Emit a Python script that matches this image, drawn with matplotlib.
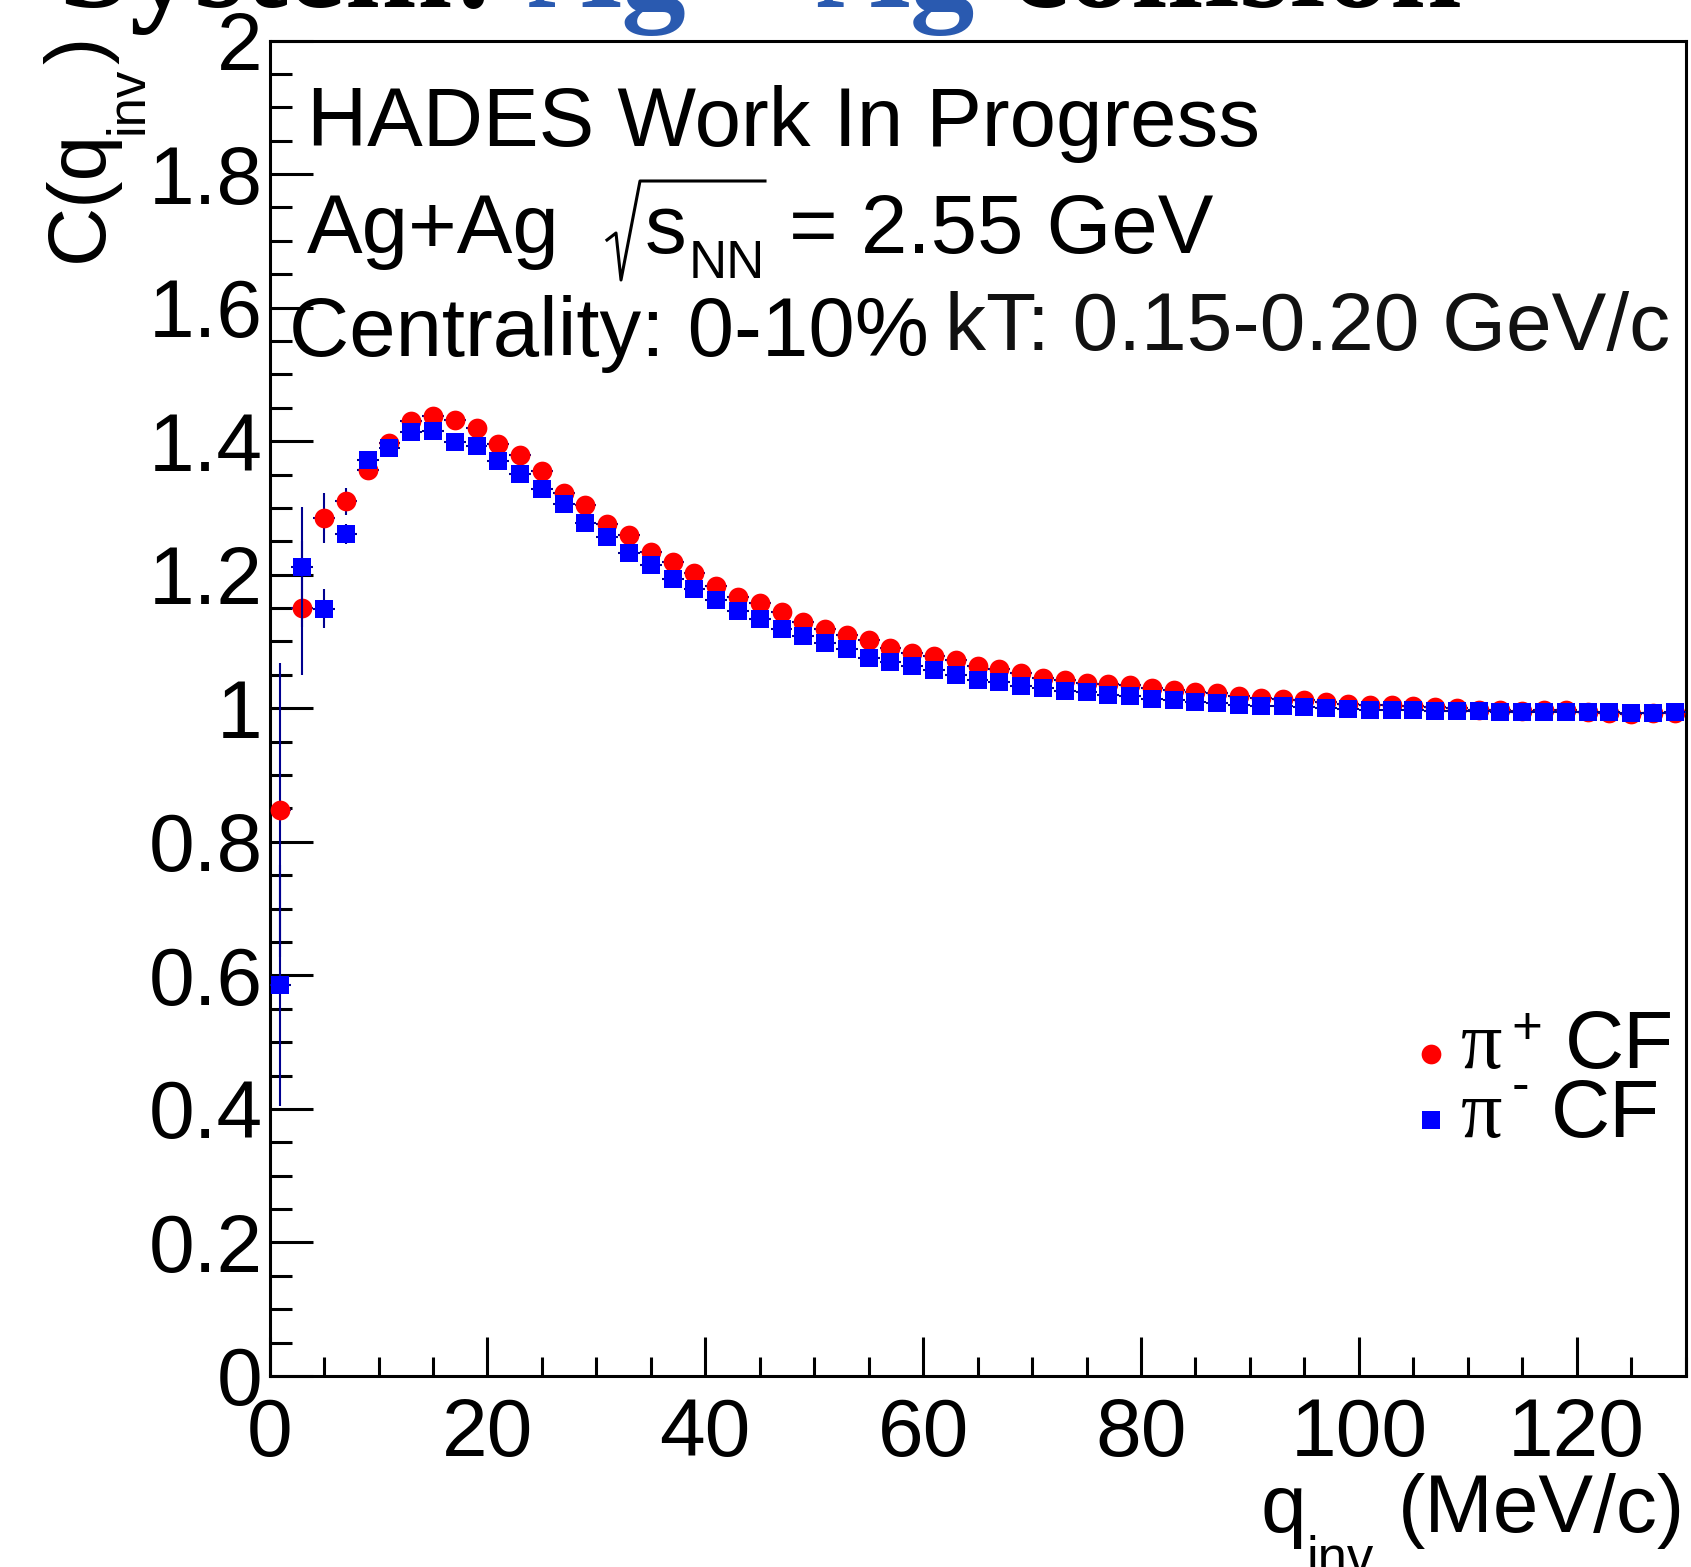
import matplotlib
matplotlib.use("Agg")
import matplotlib.pyplot as plt
from matplotlib.lines import Line2D
from matplotlib.ticker import MultipleLocator, FuncFormatter

plt.rcParams['font.family'] = ['Liberation Sans', 'DejaVu Sans']

# bin centres of q_inv (MeV/c), 2 MeV bins
q_inv = [1, 3, 5, 7, 9, 11, 13, 15, 17, 19, 21, 23, 25, 27, 29, 31, 33, 35, 37, 39,
         41, 43, 45, 47, 49, 51, 53, 55, 57, 59, 61, 63, 65, 67, 69, 71, 73, 75, 77, 79,
         81, 83, 85, 87, 89, 91, 93, 95, 97, 99, 101, 103, 105, 107, 109, 111, 113, 115,
         117, 119, 121, 123, 125, 127, 129]

cf_pip = [0.848, 1.150, 1.285, 1.310, 1.357, 1.397, 1.430, 1.438, 1.431, 1.419,
          1.395, 1.380, 1.355, 1.323, 1.305, 1.276, 1.260, 1.234, 1.219, 1.203,
          1.183, 1.167, 1.158, 1.144, 1.129, 1.118, 1.110, 1.102, 1.090, 1.083,
          1.078, 1.073, 1.063, 1.059, 1.053, 1.045, 1.042, 1.038, 1.037, 1.035,
          1.030, 1.028, 1.024, 1.023, 1.018, 1.015, 1.014, 1.013, 1.009, 1.007,
          1.005, 1.005, 1.003, 1.002, 1.000, 0.998, 0.998, 0.996, 0.998, 0.997,
          0.995, 0.993, 0.992, 0.993, 0.993]
err_pip = [0.220, 0.100, 0.037, 0.020, 0.012, 0.009, 0.007, 0.006, 0.006, 0.005,
           0.005, 0.005, 0.005, 0.004, 0.004, 0.004, 0.004, 0.004, 0.004, 0.004,
           0.004, 0.004, 0.003, 0.003, 0.003, 0.003, 0.003, 0.003, 0.003, 0.003,
           0.003, 0.003, 0.003, 0.003, 0.003, 0.003, 0.003, 0.003, 0.003, 0.003,
           0.003, 0.003, 0.003, 0.003, 0.003, 0.003, 0.003, 0.003, 0.003, 0.003,
           0.003, 0.003, 0.003, 0.003, 0.003, 0.003, 0.003, 0.003, 0.003, 0.003,
           0.003, 0.003, 0.003, 0.003, 0.003]

cf_pim = [0.585, 1.211, 1.149, 1.261, 1.372, 1.389, 1.413, 1.415, 1.398, 1.392,
          1.370, 1.351, 1.329, 1.306, 1.277, 1.257, 1.232, 1.214, 1.193, 1.178,
          1.162, 1.146, 1.133, 1.118, 1.108, 1.097, 1.088, 1.076, 1.070, 1.063,
          1.057, 1.050, 1.043, 1.040, 1.034, 1.030, 1.026, 1.024, 1.020, 1.018,
          1.014, 1.013, 1.010, 1.008, 1.005, 1.004, 1.003, 1.002, 1.000, 0.999,
          0.998, 0.997, 0.997, 0.9965, 0.9965, 0.9955, 0.995, 0.995, 0.9945, 0.994,
          0.994, 0.994, 0.993, 0.993, 0.994]
err_pim = [0.180, 0.090, 0.029, 0.015, 0.010, 0.008, 0.006, 0.005, 0.005, 0.005,
           0.004, 0.004, 0.004, 0.004, 0.004, 0.004, 0.003, 0.003, 0.003, 0.003,
           0.003, 0.003, 0.003, 0.003, 0.003, 0.003, 0.003, 0.003, 0.003, 0.003,
           0.003, 0.003, 0.003, 0.003, 0.003, 0.003, 0.003, 0.003, 0.003, 0.003,
           0.003, 0.003, 0.003, 0.003, 0.003, 0.003, 0.003, 0.003, 0.003, 0.003,
           0.003, 0.003, 0.003, 0.003, 0.003, 0.003, 0.003, 0.003, 0.003, 0.003,
           0.003, 0.003, 0.003, 0.003, 0.003]
bin_halfwidth = 1.0

W, H = 1691, 1567
fig = plt.figure(figsize=(W / 100, H / 100), dpi=100)
ax = fig.add_axes([269.6 / W, 1 - 1376 / H, (1685.6 - 269.6) / W, (1376 - 40.5) / H])


def px(x, y):
    # pixel position (from top-left) -> figure fraction
    return x / W, 1 - y / H


err_col = '#00008f'
ax.errorbar(q_inv, cf_pip, yerr=err_pip, xerr=bin_halfwidth, fmt='none',
            ecolor=err_col, elinewidth=1.5, capsize=0, zorder=2)
ax.plot(q_inv, cf_pip, 'o', color='red', markersize=14.2, markeredgewidth=0, zorder=3)
ax.errorbar(q_inv, cf_pim, yerr=err_pim, xerr=bin_halfwidth, fmt='none',
            ecolor=err_col, elinewidth=1.5, capsize=0, zorder=4)
ax.plot(q_inv, cf_pim, 's', color='blue', markersize=13.0, markeredgewidth=0, zorder=5)

ax.set_xlim(0, 130)
ax.set_ylim(0, 2)
ax.xaxis.set_major_locator(MultipleLocator(20))
ax.xaxis.set_minor_locator(MultipleLocator(5))
ax.yaxis.set_major_locator(MultipleLocator(0.2))
ax.yaxis.set_minor_locator(MultipleLocator(0.05))
ax.yaxis.set_major_formatter(FuncFormatter(lambda v, p: '%g' % round(v, 2)))
ax.xaxis.set_major_formatter(FuncFormatter(lambda v, p: '%g' % v))

for s in ax.spines.values():
    s.set_linewidth(2.2)
ax.tick_params(axis='both', which='both', direction='in', width=2.2, labelsize=59)
ax.tick_params(axis='y', which='major', length=31, pad=5)
ax.tick_params(axis='y', which='minor', length=16)
ax.tick_params(axis='x', which='major', length=28, pad=15)
ax.tick_params(axis='x', which='minor', length=14)

# axis titles, pieced together so the subscripts sit low
fig.text(*px(102, 262), 'C(q', fontsize=59, rotation=90, rotation_mode='anchor',
         ha='left', va='baseline')
fig.text(*px(143, 134), 'inv', fontsize=38, rotation=90, rotation_mode='anchor',
         ha='left', va='baseline')
fig.text(*px(102, 64), ')', fontsize=59, rotation=90, rotation_mode='anchor',
         ha='left', va='baseline')

fig.text(*px(1261, 1532), 'q', fontsize=59, ha='left', va='baseline')
fig.text(*px(1306, 1574), 'inv', fontsize=38, ha='left', va='baseline')
fig.text(*px(1398, 1532), '(MeV/c)', fontsize=59, ha='left', va='baseline')

# plot annotations
fig.text(*px(307, 146), 'HADES Work In Progress', fontsize=60, ha='left', va='baseline')
fig.text(*px(307, 253), 'Ag+Ag', fontsize=60, ha='left', va='baseline')
fig.add_artist(Line2D([607 / W, 616 / W, 621 / W, 640 / W, 765 / W],
                      [1 - 240 / H, 1 - 233 / H, 1 - 280 / H, 1 - 181 / H, 1 - 181 / H],
                      color='black', linewidth=2.2, transform=fig.transFigure))
fig.text(*px(645, 253), 's', fontsize=60, ha='left', va='baseline')
fig.text(*px(689, 278), 'NN', fontsize=38, ha='left', va='baseline')
fig.text(*px(789, 253), '= 2.55 GeV', fontsize=60, ha='left', va='baseline')
fig.text(*px(289, 356), 'Centrality: 0-10%', fontsize=60, ha='left', va='baseline')
fig.text(*px(945, 350), 'kT: 0.15-0.20 GeV/c', fontsize=59, color='#111111',
         ha='left', va='baseline')

# legend
ax.plot([0.8202], [0.2411], 'o', color='red', markersize=14.2, markeredgewidth=0,
        transform=ax.transAxes, clip_on=False)
ax.plot([0.8202], [0.1917], 's', color='blue', markersize=13.0, markeredgewidth=0,
        transform=ax.transAxes, clip_on=False)
fig.text(*px(1461, 1068), 'π', fontsize=59, family=['Liberation Serif', 'DejaVu Serif'],
         ha='left', va='baseline')
fig.text(*px(1511, 1044), '+', fontsize=38, ha='left', va='baseline')
fig.text(*px(1565, 1068), 'CF', fontsize=59, ha='left', va='baseline')
fig.text(*px(1461, 1137), 'π', fontsize=59, family=['Liberation Serif', 'DejaVu Serif'],
         ha='left', va='baseline')
fig.text(*px(1512, 1101), '-', fontsize=38, ha='left', va='baseline')
fig.text(*px(1551, 1137), 'CF', fontsize=59, ha='left', va='baseline')

# slide heading above the plot, only its lower edge is in frame
head_font = dict(fontsize=93, fontweight='bold', ha='left', va='baseline',
                 family=['Liberation Serif', 'DejaVu Serif'])
fig.text(*px(58, 7), 'System:', color='black', **head_font)
fig.text(*px(528, 7), 'Ag + Ag', color='#2a5ab0', **head_font)
fig.text(*px(1011, 7), 'collision', color='black', **head_font)

fig.savefig('out.png', dpi=100)
